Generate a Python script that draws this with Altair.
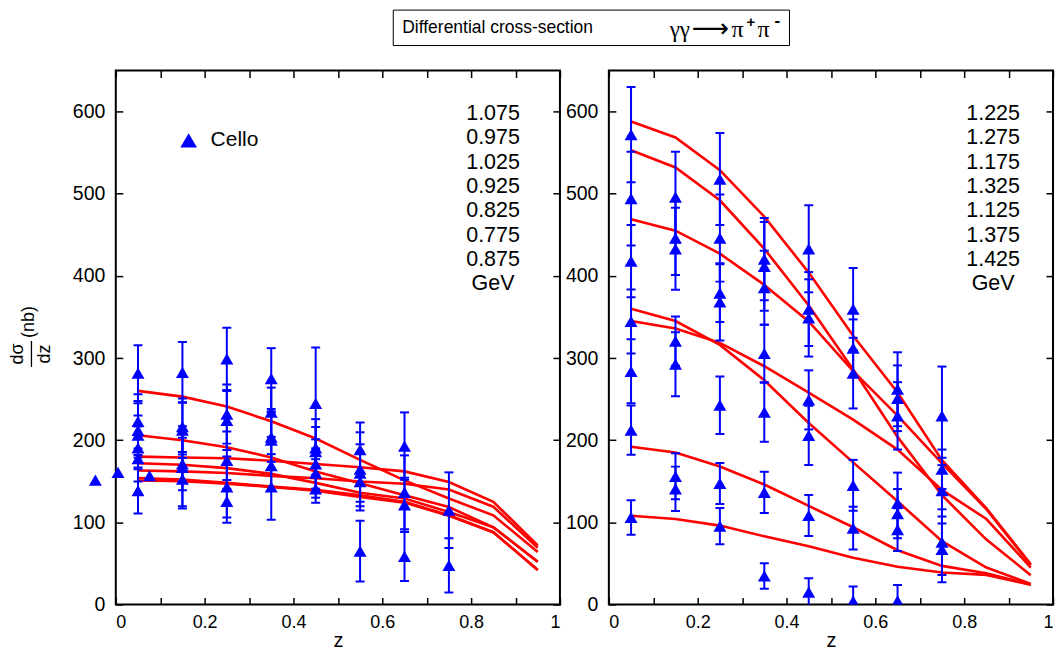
import altair as alt
import pandas as pd

# ---------------- data ----------------
Z = [0.05, 0.15, 0.25, 0.35, 0.45, 0.55, 0.65, 0.75, 0.85, 0.95]

LEFT_ENERGIES = ["1.075", "0.975", "1.025", "0.925", "0.825", "0.775", "0.875"]
LEFT_CURVES = [
    [260, 253, 241, 223, 202, 176, 151, 129, 108.5, 64],
    [206, 200, 191.5, 179, 162, 147.6, 133, 118.6, 94, 52],
    [180, 179, 178, 175, 171, 167, 162, 149, 125, 72],
    [172, 170, 166, 159, 148, 136, 129, 112.6, 94, 52],
    [163, 162, 160, 156.5, 153.7, 149.6, 147, 140, 119, 69],
    [154, 152, 148, 143.5, 139.5, 133, 125, 108.5, 88, 42],
    [151, 150, 147, 143, 138.5, 131, 124, 108, 88, 42],
]

RIGHT_ENERGIES = ["1.225", "1.275", "1.175", "1.325", "1.125", "1.375", "1.425"]
RIGHT_CURVES = [
    [588, 568.5, 528.6, 472, 404, 327, 258, 175.7, 117, 49],
    [553, 532, 492, 433, 364, 286, 204, 133, 79, 35.6],
    [469, 455, 427, 389, 344.5, 284, 230, 171.8, 116, 48],
    [360, 345, 316, 273, 221, 173, 125.6, 77, 45, 25],
    [345, 336, 318.5, 290, 258, 225, 188.5, 139.4, 104, 45],
    [192, 185, 168, 146, 120, 94, 66, 47, 38, 24],
    [108, 104, 96, 83, 71, 57, 46, 39, 36, 24],
]

# Cello points (z, value, error)
LEFT_PT_Z = ([0.05] * 7 + [0.15] * 6 + [0.25] * 6 + [0.35] * 6 + [0.45] * 6
             + [0.55] * 5 + [0.65] * 5 + [0.75] * 3 + [0.85] + [0.95])
LEFT_PT_V = [281.6, 223, 212, 206, 190.6, 177.6, 138.6,
             282.5, 216.6, 212.3, 171, 166.8, 152.5,
             299, 231.8, 224, 175.5, 143, 125.6,
             275, 234, 203.6, 200, 169, 143,
             244.8, 190.6, 186, 171, 160, 140.8,
             188.5, 164.6, 160, 149.5, 65,
             192.8, 136.5, 121.3, 58.5, -6,
             114.8, 47.7, -6,
             -6,
             -6]
LEFT_PT_E = [34, 33, 33, 24, 26, 28, 28,
             37, 34, 34, 32, 50, 33,
             38, 36, 36, 35, 37, 26,
             37, 30, 30, 35, 30, 40,
             68, 35, 30, 30, 30, 17,
             33, 45, 35, 35, 37,
             41, 45, 33, 30, 0,
             46, 33, 0,
             0,
             0]
LEFT_EXTRA_Z = [-0.046, 0.005, 0.076]
LEFT_EXTRA_V = [151.4, 160.7, 156.7]

RIGHT_PT_Z = ([0.05] * 7 + [0.15] * 7 + [0.25] * 7 + [0.35] * 7 + [0.45] * 7
              + [0.55] * 6 + [0.65] * 7 + [0.75] * 5 + [0.85] + [0.95])
RIGHT_PT_V = [572, 494, 418, 344.5, 283.8, 212.3, 106,
              496, 446, 433, 320.6, 292.5, 156, 140.8,
              517.8, 446, 379, 368.3, 242.6, 147.3, 95.3,
              420.3, 411.6, 385.6, 305.5, 234, 136.5, 34.7,
              433, 359.6, 348.8, 249, 205.8, 108.3, 15,
              359.6, 312, 281.6, 145, 93, 4,
              262, 251, 229.6, 123.5, 110.5, 91, 4.3,
              229.6, 164.6, 138.6, 75.8, 67,
              -6,
              -6]
RIGHT_PT_E = [58, 57, 44, 39, 39, 30, 21,
              55, 45, 50, 30, 39, 28, 27,
              56, 53, 35, 47, 35, 25, 22,
              50, 54, 45, 35, 36, 25, 15.5,
              53, 45, 47, 36, 36, 25, 17,
              50, 35, 43, 31, 26, 18,
              45, 40, 41, 37, 30, 26, 19.5,
              60, 24, 40, 40, 40,
              0,
              0]

X_TICKS = [0, 0.1, 0.2, 0.3, 0.4, 0.5, 0.6, 0.7, 0.8, 0.9, 1.0]
Y_TICKS = [0, 100, 200, 300, 400, 500, 600]

RED = "#ff0000"
BLUE = "#0000ff"
FONT = "Liberation Sans"
W, H = 445, 535


def curves_df(energies, curves):
    rows = []
    for e, vals in zip(energies, curves):
        for z, v in zip(Z, vals):
            rows.append({"energy": e, "z": z, "v": v})
    return pd.DataFrame(rows)


def points_df(zs, vs, es):
    df = pd.DataFrame({"z": zs, "v": vs, "e": es})
    df["lo"] = df["v"] - df["e"]
    df["hi"] = df["v"] + df["e"]
    return df


ONE = pd.DataFrame({"a": [0]})


def panel(energies, curves, pzs, pvs, pes, label_x, left, extra=None):
    xs = alt.Scale(domain=[0, 1], nice=False, zero=False)
    ys = alt.Scale(domain=[0, 650], nice=False, zero=False)
    cdf = curves_df(energies, curves)
    pdf = points_df(pzs, pvs, pes)
    edf = pdf[pdf["e"] > 0]

    x_bottom = alt.Axis(orient="bottom", values=X_TICKS, offset=-7, tickSize=7,
                        domain=False, grid=False, labelPadding=9, labelFontSize=18,
                        labelExpr="round(datum.value*10) % 2 == 0 ? format(datum.value, '~g') : ''",
                        title="z", titlePadding=-1)
    y_left = alt.Axis(orient="left", values=Y_TICKS, offset=-7, tickSize=7,
                      domain=False, grid=False, labelPadding=11, title=None)
    x_top = alt.Axis(orient="top", values=X_TICKS, offset=-7, tickSize=7,
                     domain=False, grid=False, labels=False, title=None)
    y_right = alt.Axis(orient="right", values=Y_TICKS, offset=-7, tickSize=7,
                       domain=False, grid=False, labels=False, title=None)

    lines = alt.Chart(cdf).mark_line(color=RED, strokeWidth=2.6).encode(
        x=alt.X("z:Q", scale=xs, axis=x_bottom),
        y=alt.Y("v:Q", scale=ys, axis=y_left),
        detail="energy:N",
    )
    mirror = alt.Chart(cdf).mark_line(opacity=0).encode(
        x=alt.X("z:Q", scale=xs, axis=x_top),
        y=alt.Y("v:Q", scale=ys, axis=y_right),
        detail="energy:N",
    )
    bars = alt.Chart(edf).mark_rule(color=BLUE, strokeWidth=2, clip=True).encode(
        x=alt.X("z:Q", scale=xs, axis=None),
        y=alt.Y("lo:Q", scale=ys, axis=None),
        y2="hi:Q",
    )
    caps = alt.Chart(edf).transform_fold(["lo", "hi"], as_=["end", "cap"]).mark_tick(
        color=BLUE, orient="horizontal", size=9, thickness=2, clip=True, opacity=1
    ).encode(
        x=alt.X("z:Q", scale=xs, axis=None),
        y=alt.Y("cap:Q", type="quantitative", scale=ys, axis=None),
    )
    pts = alt.Chart(pdf).mark_point(shape="triangle-up", filled=True, size=169,
                                    color=BLUE, opacity=1, clip=True).encode(
        x=alt.X("z:Q", scale=xs, axis=None),
        y=alt.Y("v:Q", scale=ys, axis=None),
    )
    layers = [lines, mirror, bars, caps, pts]
    if extra is not None:
        xdf = pd.DataFrame({"z": extra[0], "v": extra[1]})
        layers.append(alt.Chart(xdf).mark_point(shape="triangle-up", filled=True, size=169,
                                                 color=BLUE, opacity=1).encode(
            x=alt.X("z:Q", scale=xs, axis=None),
            y=alt.Y("v:Q", scale=ys, axis=None),
        ))
    label_text = "\n".join(energies + ["GeV"])
    layers.append(alt.Chart(ONE).mark_text(
        text=label_text, lineBreak="\n", lineHeight=24.4, font=FONT, fontSize=21.5,
        align="center", baseline="top", color="black"
    ).encode(x=alt.value(label_x), y=alt.value(32.4)))

    if left:
        layers.append(alt.Chart(ONE).mark_point(shape="triangle-up", filled=True, size=280,
                                                color=BLUE, opacity=1).encode(
            x=alt.value(73), y=alt.value(70)))
        layers.append(alt.Chart(ONE).mark_text(
            text="Cello", font=FONT, fontSize=21, align="left", baseline="middle", color="black"
        ).encode(x=alt.value(95), y=alt.value(70)))
        # y title: d sigma / dz (nb)
        for txt, xv, yv in [("dσ", -98, 284), ("dz", -71, 284), ("(nb)", -87, 252)]:
            layers.append(alt.Chart(ONE).mark_text(
                text=txt, font=FONT, fontSize=18, angle=270, align="center",
                baseline="middle", color="black"
            ).encode(x=alt.value(xv), y=alt.value(yv)))
        layers.append(alt.Chart(ONE).mark_rule(color="black", strokeWidth=1.3).encode(
            x=alt.value(-84.5), y=alt.value(271), y2=alt.value(297)))

    return alt.layer(*layers).resolve_axis(x="independent", y="independent").properties(
        width=W, height=H)


left = panel(LEFT_ENERGIES, LEFT_CURVES, LEFT_PT_Z, LEFT_PT_V, LEFT_PT_E, 378, True,
             extra=(LEFT_EXTRA_Z, LEFT_EXTRA_V))
right = panel(RIGHT_ENERGIES, RIGHT_CURVES, RIGHT_PT_Z, RIGHT_PT_V, RIGHT_PT_E, 385, False)

# ---------------- title box ----------------
TX = 278  # left edge of the title box, relative to the left plot
TH = 36
title_layers = [
    alt.Chart(ONE).mark_rect(fill="white", stroke="black", strokeWidth=1).encode(
        x=alt.value(TX), x2=alt.value(TX + 397), y=alt.value(0.5), y2=alt.value(TH)),
    alt.Chart(ONE).mark_text(text="Differential cross-section", font=FONT, fontSize=17.5,
                             align="left", baseline="middle", color="black").encode(
        x=alt.value(TX + 9), y=alt.value(18.5)),
    alt.Chart(ONE).mark_text(text="γγ", font="Liberation Serif", fontSize=23,
                             align="left", baseline="middle", color="black").encode(
        x=alt.value(TX + 277), y=alt.value(20)),
    alt.Chart(ONE).mark_text(text="⟶", font="DejaVu Sans", fontSize=26,
                             align="left", baseline="middle", color="black").encode(
        x=alt.value(TX + 299), y=alt.value(19)),
    alt.Chart(ONE).mark_text(text="π", font="Liberation Serif", fontSize=24,
                             align="left", baseline="middle", color="black").encode(
        x=alt.value(TX + 339), y=alt.value(20)),
    alt.Chart(ONE).mark_text(text="+", font=FONT, fontSize=15, fontWeight="bold",
                             align="left", baseline="middle", color="black").encode(
        x=alt.value(TX + 354), y=alt.value(12)),
    alt.Chart(ONE).mark_text(text="π", font="Liberation Serif", fontSize=24,
                             align="left", baseline="middle", color="black").encode(
        x=alt.value(TX + 365), y=alt.value(20)),
    alt.Chart(ONE).mark_text(text="-", font=FONT, fontSize=17, fontWeight="bold",
                             align="left", baseline="middle", color="black").encode(
        x=alt.value(TX + 382), y=alt.value(11)),
]
title_view = alt.layer(*title_layers).properties(
    width=TX + 400, height=TH, view=alt.ViewBackground(stroke="transparent"))

chart = alt.vconcat(
    title_view,
    alt.hconcat(left, right, spacing=2),
    spacing=21,
).properties(
    padding=0
).configure_view(
    stroke="black", strokeWidth=2
).configure_axis(
    labelFont=FONT, labelFontSize=19.5, labelColor="black",
    tickColor="black", tickWidth=1.5,
    titleFont=FONT, titleFontSize=20, titleFontWeight="normal", titleColor="black",
)

chart.save("out.html", embed_options={"renderer": "svg", "actions": False})
